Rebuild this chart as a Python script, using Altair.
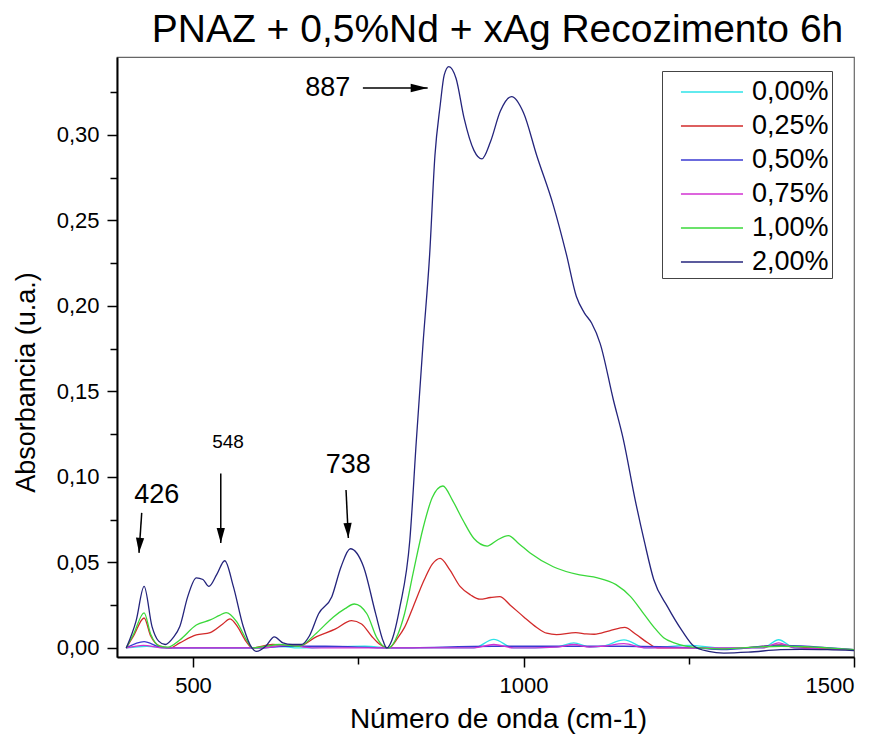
import altair as alt
import pandas as pd

# ---- FTIR spectra: wavenumber (cm-1) and absorbance for each Ag content ----
wn_000 = [399, 430, 460, 600, 630, 660, 760, 800, 925, 955, 985, 1050, 1076, 1100, 1120, 1152, 1185, 1250, 1300, 1362, 1386, 1410, 1500]
abs_000 = [0.000, 0.001, 0.000, 0.000, 0.001, 0.000, 0.001, 0.000, 0.000, 0.005, 0.000, 0.0005, 0.003, 0.0005, 0.001, 0.0047, 0.000, 0.0015, 0.000, 0.000, 0.0048, 0.000, -0.001]

wn_025 = [399, 410, 426, 436, 450, 465, 480, 505, 526, 545, 556, 568, 580, 590, 620, 660, 687, 715, 740, 755, 770, 783, 796, 810, 820, 833, 850, 862, 874, 888, 904, 920, 934, 950, 964, 980, 1000, 1020, 1035, 1050, 1079, 1095, 1107, 1130, 1153, 1170, 1188, 1203, 1260, 1300, 1350, 1388, 1420, 1500]
abs_025 = [0.000, 0.007, 0.0175, 0.007, 0.001, 0.000, 0.003, 0.0076, 0.009, 0.014, 0.017, 0.012, 0.004, 0.000, 0.002, 0.001, 0.0066, 0.011, 0.016, 0.014, 0.007, 0.002, 0.000, 0.006, 0.012, 0.024, 0.040, 0.049, 0.0524, 0.046, 0.036, 0.031, 0.0285, 0.0295, 0.030, 0.025, 0.0183, 0.012, 0.0086, 0.0078, 0.009, 0.0082, 0.008, 0.010, 0.012, 0.008, 0.003, 0.000, 0.000, -0.0005, 0.0005, 0.0018, 0.0005, -0.001]

wn_050 = [399, 426, 450, 470, 600, 640, 700, 800, 955, 1076, 1152, 1260, 1300, 1386, 1500]
abs_050 = [0.000, 0.0037, 0.0005, 0.000, 0.000, 0.001, 0.001, 0.000, 0.001, 0.001, 0.001, 0.000, -0.001, 0.0015, -0.001]

wn_075 = [399, 425, 455, 600, 644, 680, 800, 925, 955, 985, 1050, 1076, 1100, 1120, 1152, 1185, 1300, 1362, 1386, 1410, 1500]
abs_075 = [0.000, 0.0015, 0.000, 0.000, 0.0017, 0.000, 0.000, 0.000, 0.002, 0.000, 0.0005, 0.002, 0.0005, 0.001, 0.0025, 0.000, 0.000, 0.000, 0.003, 0.000, -0.001]

wn_100 = [399, 410, 426, 436, 450, 462, 480, 505, 526, 540, 550, 566, 581, 590, 610, 630, 660, 687, 712, 730, 744, 763, 778, 788, 796, 810, 820, 833, 848, 862, 878, 893, 908, 925, 945, 960, 977, 993, 1010, 1045, 1085, 1112, 1140, 1162, 1180, 1197, 1212, 1228, 1268, 1300, 1350, 1390, 1440, 1500]
abs_100 = [0.000, 0.008, 0.0205, 0.008, 0.001, 0.0005, 0.0047, 0.0134, 0.0164, 0.019, 0.0207, 0.0154, 0.0047, 0.000, 0.001, 0.002, 0.001, 0.0088, 0.018, 0.023, 0.0257, 0.020, 0.006, 0.001, 0.000, 0.008, 0.020, 0.0437, 0.070, 0.088, 0.0947, 0.086, 0.075, 0.064, 0.0596, 0.063, 0.0657, 0.061, 0.0555, 0.0475, 0.0427, 0.041, 0.037, 0.030, 0.021, 0.0123, 0.006, 0.003, 0.000, -0.0005, 0.0005, 0.001, 0.0005, -0.001]

wn_200 = [399, 414, 426, 438, 448, 458, 470, 480, 492, 505, 515, 524, 536, 548, 561, 576, 589, 596, 610, 623, 636, 650, 664, 676, 690, 710, 724, 738, 758, 776, 788, 793, 801, 813, 828, 838, 848, 858, 866, 874, 880, 887, 898, 910, 925, 937, 950, 965, 982, 1000, 1020, 1045, 1065, 1080, 1092, 1103, 1116, 1136, 1151, 1169, 1183, 1197, 1218, 1240, 1258, 1280, 1303, 1340, 1389, 1420, 1460, 1500]
abs_200 = [0.000, 0.016, 0.036, 0.0125, 0.004, 0.002, 0.006, 0.0125, 0.030, 0.041, 0.040, 0.036, 0.043, 0.051, 0.036, 0.0125, 0.000, -0.002, 0.001, 0.0065, 0.003, 0.002, 0.002, 0.007, 0.020, 0.030, 0.0475, 0.058, 0.0475, 0.0205, 0.0037, 0.000, 0.0047, 0.024, 0.063, 0.122, 0.178, 0.230, 0.288, 0.3175, 0.335, 0.340, 0.333, 0.310, 0.291, 0.286, 0.296, 0.314, 0.3224, 0.313, 0.288, 0.259, 0.230, 0.2055, 0.196, 0.190, 0.178, 0.145, 0.122, 0.0865, 0.062, 0.040, 0.024, 0.010, 0.001, -0.002, -0.003, -0.0025, -0.001, -0.0008, -0.001, -0.0015]

series = ["0,00%", "0,25%", "0,50%", "0,75%", "1,00%", "2,00%"]
colors = ["#2ee3e8", "#d22a2a", "#3a3ad2", "#d232d2", "#3ad83a", "#24247c"]
spectra = [(wn_000, abs_000), (wn_025, abs_025), (wn_050, abs_050),
           (wn_075, abs_075), (wn_100, abs_100), (wn_200, abs_200)]

# ---- band annotations ----
band_labels = ["426", "738", "887"]
band_label_x = [445, 735, 704]
band_label_y = [0.0895, 0.107, 0.3275]
small_label = ["548"]
small_label_x = [553]
small_label_y = [0.1205]

arrow_x0 = [422.4, 542, 731.5, 757]
arrow_y0 = [0.079, 0.102, 0.0924, 0.3275]
arrow_x1 = [418.3, 542, 735, 855]
arrow_y1 = [0.0556, 0.0614, 0.0643, 0.3275]

y_major = [0.0, 0.05, 0.10, 0.15, 0.20, 0.25, 0.30]
y_minor = [0.025, 0.075, 0.125, 0.175, 0.225, 0.275, 0.325]
x_major = [500, 1000, 1500]
x_minor = [750, 1250]

rows = []
for name, (wn, ab) in zip(series, spectra):
    assert len(wn) == len(ab), name
    for w, a in zip(wn, ab):
        rows.append({"serie": name, "wn": w, "absorb": a})
df = pd.DataFrame(rows)

labels_df = pd.DataFrame({"txt": band_labels, "x": band_label_x, "y": band_label_y})
small_df = pd.DataFrame({"txt": small_label, "x": small_label_x, "y": small_label_y})
arrows_df = pd.DataFrame({"x0": arrow_x0, "y0": arrow_y0, "x1": arrow_x1, "y1": arrow_y1})
down_heads = arrows_df.iloc[:3].assign(rot=[4, 0, 357])
right_heads = arrows_df.iloc[3:]

FONT = "Liberation Sans"
xscale = alt.Scale(domain=[385, 1500], nice=False, zero=False)
yscale = alt.Scale(domain=[-0.0053, 0.3456], nice=False, zero=False)
comma_fmt = "replace(format(datum.value, '.2f'), '.', ',')"

lines = alt.Chart(df).mark_line(interpolate="monotone", strokeWidth=1.3).encode(
    x=alt.X("wn:Q", scale=xscale,
            axis=alt.Axis(values=x_major, format="d", title="Número de onda (cm-1)",
                          tickSize=10, labelPadding=8, titleX=381, titleY=70,
                          titleFontSize=28,
                          titleBaseline="alphabetic", titleAlign="center")),
    y=alt.Y("absorb:Q", scale=yscale,
            axis=alt.Axis(values=y_major, labelExpr=comma_fmt, title="Absorbancia (u.a.)",
                          tickSize=10, labelPadding=8, titleX=-83, titleY=325,
                          titleAngle=270, titleBaseline="alphabetic", titleAlign="center")),
    color=alt.Color("serie:N", scale=alt.Scale(domain=series, range=colors),
                    legend=alt.Legend(title=None, orient="none", legendX=545, legendY=14,
                                      symbolType="M-0.12,0H3.53", symbolSize=1156,
                                      symbolStrokeWidth=1.5, labelFontSize=27,
                                      labelFont=FONT, labelOffset=51, padding=3,
                                      rowPadding=3, strokeColor="#444",
                                      labelColor="black")),
    order=alt.Order("wn:Q"),
)

shafts = alt.Chart(arrows_df).mark_rule(color="black", strokeWidth=1.5).encode(
    x=alt.X("x0:Q", scale=xscale,
            axis=alt.Axis(values=x_minor, labels=False, domain=False, tickSize=7,
                          title=None, orient="bottom")),
    x2="x1:Q",
    y=alt.Y("y0:Q", scale=yscale,
            axis=alt.Axis(values=y_minor, labels=False, domain=False, tickSize=7,
                          title=None, orient="left")),
    y2="y1:Q",
)

down = alt.Chart(down_heads).mark_point(
    shape="M0,0L-0.55,-2L0.55,-2Z", filled=True, size=225, color="black", opacity=1
).encode(
    x=alt.X("x1:Q", scale=xscale, axis=None),
    y=alt.Y("y1:Q", scale=yscale, axis=None),
    angle=alt.Angle("rot:Q", scale=None),
)

right = alt.Chart(right_heads).mark_point(
    shape="M0,0L-2,-0.5L-2,0.5Z", filled=True, size=289, color="black", opacity=1
).encode(
    x=alt.X("x1:Q", scale=xscale, axis=None),
    y=alt.Y("y1:Q", scale=yscale, axis=None),
)

texts = alt.Chart(labels_df).mark_text(font=FONT, fontSize=27, color="black",
                                       baseline="middle", align="center").encode(
    x=alt.X("x:Q", scale=xscale, axis=None),
    y=alt.Y("y:Q", scale=yscale, axis=None),
    text="txt:N",
)

small = alt.Chart(small_df).mark_text(font=FONT, fontSize=19, color="black",
                                      baseline="middle", align="center").encode(
    x=alt.X("x:Q", scale=xscale, axis=None),
    y=alt.Y("y:Q", scale=yscale, axis=None),
    text="txt:N",
)

chart = alt.layer(lines, shafts, down, right, texts, small).resolve_axis(
    x="independent", y="independent"
).properties(
    width=737, height=600,
    title=alt.TitleParams("PNAZ + 0,5%Nd + xAg Recozimento 6h", fontSize=39, font=FONT,
                          fontWeight="normal", anchor="middle", dx=12, dy=36, offset=12,
                          baseline="alphabetic", color="black"),
    autosize=alt.AutoSizeParams(type="none"),
    padding={"left": 117, "top": 57, "right": 26, "bottom": 85},
).configure_view(
    stroke="#666", strokeWidth=1.2
).configure_axis(
    grid=False, domainColor="black", domainWidth=2, tickColor="black", tickWidth=1.5,
    labelFont=FONT, labelFontSize=22, labelColor="black",
    titleFont=FONT, titleFontSize=27, titleFontWeight="normal", titleColor="black",
)

chart.save("out.html", embed_options={"renderer": "svg", "actions": False})
